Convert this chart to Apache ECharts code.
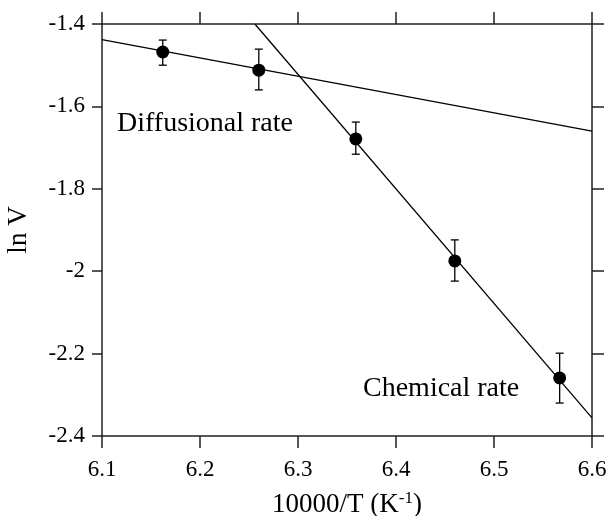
<!DOCTYPE html>
<html>
<head>
<meta charset="utf-8">
<script src="https://cdn.jsdelivr.net/npm/echarts@6/dist/echarts.min.js"></script>
<style>
html, body { margin: 0; padding: 0; background: #fff; }
#chart { width: 611px; height: 516px; }
</style>
</head>
<body>
<div id="chart"></div>
<script>
// measured points (10000/T, ln V) with error bar limits
var xValues = [6.162, 6.26, 6.359, 6.46, 6.567];
var yValues = [-1.468, -1.512, -1.679, -1.975, -2.259];
var errTop = [-1.439, -1.461, -1.638, -1.924, -2.199];
var errBottom = [-1.500, -1.560, -1.716, -2.024, -2.320];

// fitted lines
var diffusionLine = [[6.1, -1.438], [6.6, -1.66]];
var chemicalLine = [[6.256, -1.4], [6.6, -2.356]];

var xTicks = [6.1, 6.2, 6.3, 6.4, 6.5, 6.6];
var yTicks = [-2.4, -2.2, -2, -1.8, -1.6, -1.4];

var points = xValues.map(function(x, i){ return [x, yValues[i]]; });
var errData = xValues.map(function(x, i){ return [x, errTop[i], errBottom[i]]; });

var font = 'Liberation Serif, Times New Roman, serif';
var axisColor = '#222';

var chart = echarts.init(document.getElementById('chart'));
chart.setOption({
    animation: false,
    grid: { left: 102, right: 19, top: 24, bottom: 80, outerBoundsMode: 'none', containLabel: false },
    xAxis: [
        {
            type: 'value', min: 6.1, max: 6.6, interval: 0.1,
            position: 'bottom',
            name: '10000/T (K{sup|-1})',
            nameLocation: 'middle', nameGap: 54,
            nameTextStyle: {
                fontFamily: font, fontSize: 27, color: '#000',
                rich: { sup: { fontFamily: font, fontSize: 17, color: '#000', verticalAlign: 'top', padding: [0, 0, 12, 0] } }
            },
            axisLine: { lineStyle: { color: axisColor, width: 1.5 } },
            axisTick: { inside: false, length: 12, lineStyle: { color: axisColor, width: 1.5 } },
            axisLabel: { fontFamily: font, fontSize: 23, color: '#000', margin: 22,
                formatter: function(v){ return xTicks.indexOf(+v.toFixed(1)) >= 0 ? v.toFixed(1) : ''; } },
            splitLine: { show: false }
        },
        {
            type: 'value', min: 6.1, max: 6.6, interval: 0.1,
            position: 'top',
            axisLine: { lineStyle: { color: axisColor, width: 1.5 } },
            axisTick: { inside: false, length: 12, lineStyle: { color: axisColor, width: 1.5 } },
            axisLabel: { show: false },
            splitLine: { show: false }
        }
    ],
    yAxis: [
        {
            type: 'value', min: -2.4, max: -1.4, interval: 0.2,
            position: 'left',
            name: 'ln V',
            nameLocation: 'middle', nameGap: 70, nameRotate: 90,
            nameTextStyle: { fontFamily: font, fontSize: 27, color: '#000' },
            axisLine: { lineStyle: { color: axisColor, width: 1.5 } },
            axisTick: { inside: false, length: 10, lineStyle: { color: axisColor, width: 1.5 } },
            axisLabel: { fontFamily: font, fontSize: 23, color: '#000', margin: 17,
                formatter: function(v){ return String(+v.toFixed(1)); } },
            splitLine: { show: false }
        },
        {
            type: 'value', min: -2.4, max: -1.4, interval: 0.2,
            position: 'right',
            axisLine: { lineStyle: { color: axisColor, width: 1.5 } },
            axisTick: { inside: false, length: 12, lineStyle: { color: axisColor, width: 1.5 } },
            axisLabel: { show: false },
            splitLine: { show: false }
        }
    ],
    series: [
        {
            type: 'line', data: diffusionLine, symbol: 'none', clip: true,
            lineStyle: { color: '#000', width: 1.3 }
        },
        {
            type: 'line', data: chemicalLine, symbol: 'none', clip: true,
            lineStyle: { color: '#000', width: 1.3 }
        },
        {
            type: 'custom',
            data: errData,
            renderItem: function(params, api){
                var top = api.coord([api.value(0), api.value(1)]);
                var bot = api.coord([api.value(0), api.value(2)]);
                var w = 4;
                var st = { stroke: '#000', lineWidth: 1.3 };
                return {
                    type: 'group',
                    children: [
                        { type: 'line', shape: { x1: top[0], y1: top[1], x2: bot[0], y2: bot[1] }, style: st },
                        { type: 'line', shape: { x1: top[0] - w, y1: top[1], x2: top[0] + w, y2: top[1] }, style: st },
                        { type: 'line', shape: { x1: bot[0] - w, y1: bot[1], x2: bot[0] + w, y2: bot[1] }, style: st }
                    ]
                };
            },
            z: 3
        },
        {
            type: 'scatter', data: points, symbol: 'circle', symbolSize: 13,
            itemStyle: { color: '#000', opacity: 1 }, z: 4
        }
    ],
    graphic: [
        { type: 'text', left: 117, top: 110,
          style: { text: 'Diffusional rate', fontFamily: font, fontSize: 28, fill: '#000' } },
        { type: 'text', left: 363, top: 375,
          style: { text: 'Chemical rate', fontFamily: font, fontSize: 28, fill: '#000' } }
    ]
});
</script>
</body>
</html>
